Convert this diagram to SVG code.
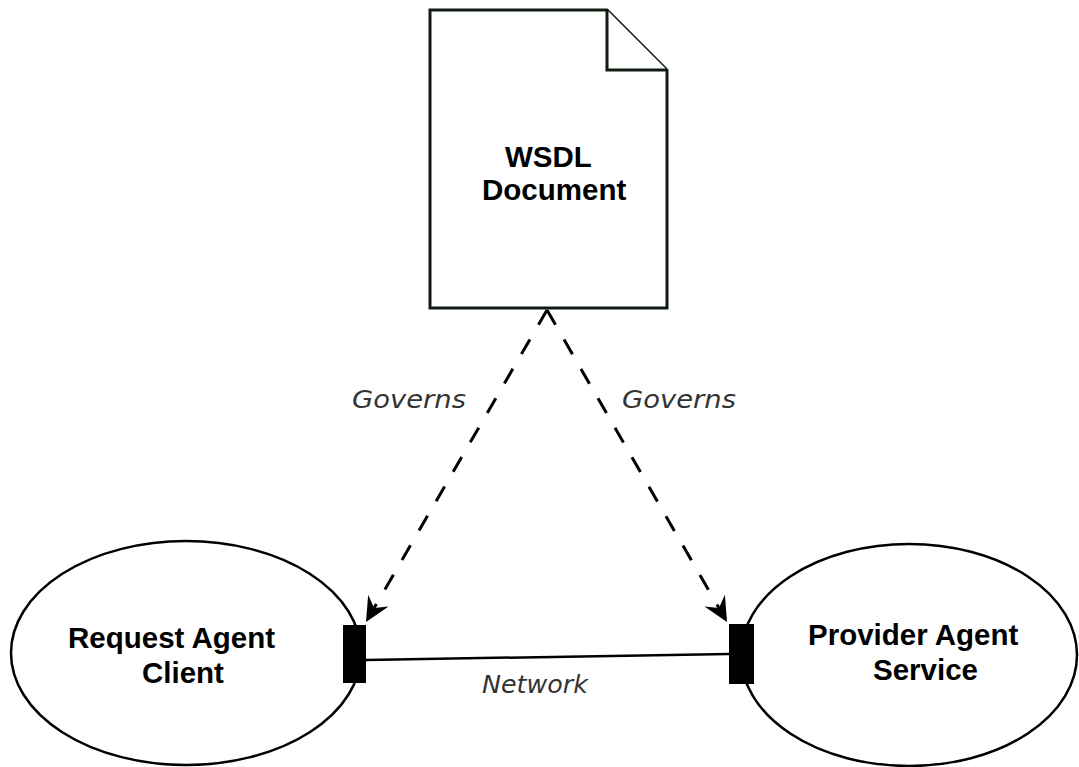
<svg xmlns="http://www.w3.org/2000/svg" width="1079" height="767" viewBox="0 0 1079 767">
  <style>
    .node { fill: #ffffff; stroke: #000000; stroke-width: 2.5; }
    .doc { fill: #ffffff; stroke: #111a11; stroke-width: 3; stroke-linejoin: miter; }
    .port { fill: #000000; stroke: none; }
    .title { font-family: "Liberation Sans", Arial, sans-serif; font-weight: bold; font-size: 29.5px; fill: #000000; }
    .label { font-family: "DejaVu Sans", Verdana, sans-serif; font-style: italic; font-size: 25px; fill: #333333; }
    .dash { fill: none; stroke: #000000; stroke-width: 3; stroke-dasharray: 17 17; }
    .net { fill: none; stroke: #000000; stroke-width: 2.5; }
  </style>
  <defs>
    <marker id="arrow" markerUnits="userSpaceOnUse" markerWidth="30" markerHeight="30" viewBox="-25 -13 28 26" refX="0" refY="0" orient="auto">
      <path d="M0,0 L-23,-11 L-15,0 L-23,11 Z" fill="#000000"/>
    </marker>
  </defs>
  <rect x="0" y="0" width="1079" height="767" fill="#ffffff"/>

  <g id="connectors">
    <line class="dash" x1="547" y1="310" x2="366" y2="622" marker-end="url(#arrow)"/>
    <line class="dash" x1="547" y1="310" x2="727" y2="622" marker-end="url(#arrow)"/>
    <line class="net" x1="366" y1="660" x2="729" y2="654"/>
    <text class="label" x="352" y="408" textLength="114" lengthAdjust="spacingAndGlyphs">Governs</text>
    <text class="label" x="622" y="408" textLength="114" lengthAdjust="spacingAndGlyphs">Governs</text>
    <text class="label" x="482" y="693" textLength="106" lengthAdjust="spacingAndGlyphs">Network</text>
  </g>

  <g id="wsdl-document">
    <path class="doc" d="M430,10 L607,10 L667,70 L667,308 L430,308 Z"/>
    <path class="doc" d="M607,10 L607,70 L667,70" fill="none"/>
    <text class="title" x="505" y="167">WSDL</text>
    <text class="title" x="482" y="200">Document</text>
  </g>

  <g id="request-agent">
    <ellipse class="node" cx="186" cy="653" rx="175" ry="112"/>
    <rect class="port" x="343" y="625" width="23" height="58"/>
    <text class="title" x="68" y="648">Request Agent</text>
    <text class="title" x="142" y="683">Client</text>
  </g>

  <g id="provider-agent">
    <ellipse class="node" cx="909" cy="655" rx="168" ry="111"/>
    <rect class="port" x="729" y="624" width="25" height="60"/>
    <text class="title" x="808" y="645">Provider Agent</text>
    <text class="title" x="873" y="680">Service</text>
  </g>
</svg>
